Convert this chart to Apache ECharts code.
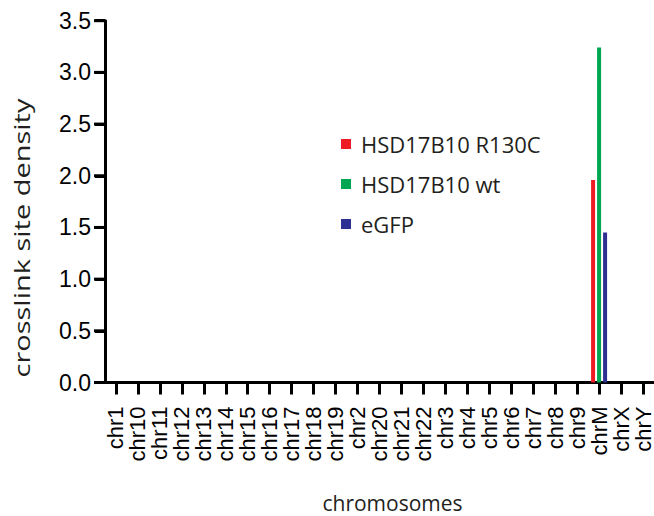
<!DOCTYPE html>
<html>
<head>
<meta charset="utf-8">
<script src="https://cdn.jsdelivr.net/npm/echarts@6/dist/echarts.min.js"></script>
<style>html,body{margin:0;padding:0;background:#fff;}#c{width:654px;height:516px;}</style>
</head>
<body>
<div id="c"></div>
<script>
const categories = ['chr1','chr10','chr11','chr12','chr13','chr14','chr15','chr16','chr17','chr18','chr19','chr2','chr20','chr21','chr22','chr3','chr4','chr5','chr6','chr7','chr8','chr9','chrM','chrX','chrY'];
const seriesNames = ['HSD17B10 R130C','HSD17B10 wt','eGFP'];
const r130c = [0,0,0,0,0,0,0,0,0,0,0,0,0,0,0,0,0,0,0,0,0,0,1.96,0,0];
const wt    = [0,0,0,0,0,0,0,0,0,0,0,0,0,0,0,0,0,0,0,0,0,0,3.24,0,0];
const egfp  = [0,0,0,0,0,0,0,0,0,0,0,0,0,0,0,0,0,0,0,0,0,0,1.45,0,0];
const colors = ['#ed1c24','#00a651','#2e3192'];
const yTickValues = [0,0.5,1,1.5,2,2.5,3,3.5];
const yTicks = ['0.0','0.5','1.0','1.5','2.0','2.5','3.0','3.5'];

const chart = echarts.init(document.getElementById('c'), null, {renderer:'svg'});
const values = [r130c, wt, egfp];
const baseGraphics = [
  {type:'text', x:22, y:238, rotation:Math.PI/2, scaleX:1.38,
   style:{text:'crosslink site density', font:'21px "Open Sans"', fill:'#231f20', textAlign:'center', textVerticalAlign:'middle'}},
  {type:'text', x:392.5, y:503,
   style:{text:'chromosomes', font:'21px "Open Sans"', fill:'#231f20', textAlign:'center', textVerticalAlign:'middle'}}
];
chart.setOption({
  animation:false,
  grid:{left:105, top:20.7, right:0, bottom:133.5, containLabel:false},
  legend:{
    orient:'vertical', left:341, top:133, padding:0, itemWidth:10, itemHeight:10, itemGap:18, icon:'rect',
    data:seriesNames, selectedMode:false,
    textStyle:{fontFamily:'Open Sans', fontSize:22, color:'#231f20', lineHeight:20, padding:[0,0,0,5]}
  },
  xAxis:{
    type:'category', data:categories,
    axisLine:{show:true, lineStyle:{color:'#000', width:3}},
    axisTick:{show:true, inside:false, alignWithLabel:true, interval:0, length:12, lineStyle:{color:'#000', width:3}},
    axisLabel:{rotate:90, margin:24, interval:0, fontFamily:'Liberation Sans', fontSize:22, color:'#000'}
  },
  yAxis:{
    type:'value', min:0, max:3.5, interval:0.5,
    axisLine:{show:true, lineStyle:{color:'#000', width:3}},
    axisTick:{show:true, inside:false, length:10, lineStyle:{color:'#000', width:3}},
    splitLine:{show:false},
    axisLabel:{show:true, margin:14, fontFamily:'Liberation Sans', fontSize:23, color:'#000',
      formatter:(v,i)=>yTicks[i]}
  },
  graphic:baseGraphics,
  series: seriesNames.map((n,i)=>({
    name:n, type:'bar', data:values[i], barWidth:4, barGap:'50%',
    itemStyle:{color:colors[i]}
  }))
});
// y-axis tick marks placed through the axis scale
const x0 = chart.convertToPixel({xAxisIndex:0}, categories[0]) - 11;
const tickGraphics = yTickValues.map(v => {
  const py = chart.convertToPixel({yAxisIndex:0}, v);
  return {type:'rect', z:100, shape:{x:x0-11, y:py-1.5, width:11, height:3}, style:{fill:'#000'}};
});
chart.setOption({graphic: baseGraphics.concat(tickGraphics)}, {replaceMerge:['graphic']});
</script>
</body>
</html>
